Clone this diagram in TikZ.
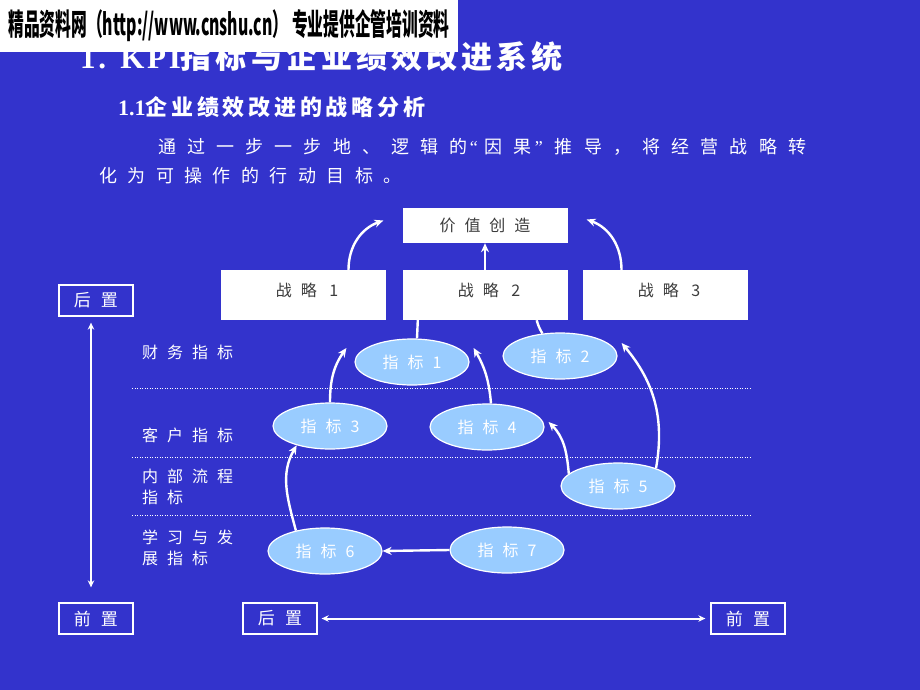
\documentclass[tikz,border=0pt]{standalone}
\usepackage{fontspec}
\usepackage{graphicx}
\setmainfont{Noto Sans CJK SC}
\newfontfamily\cjk{Noto Sans CJK SC}
\newfontfamily\serifb{Liberation Serif}[BoldFont={Liberation Serif Bold}]
\usetikzlibrary{shapes.geometric,arrows.meta,calc}
\definecolor{bg}{RGB}{51,51,204}
\definecolor{lb}{RGB}{153,204,255}
\definecolor{dg}{RGB}{60,60,60}
\newcommand{\fs}[1]{\fontsize{#1pt}{#1pt}\selectfont}
\newcommand{\ls}[1]{\addfontfeature{LetterSpace=#1}}
\newcommand{\oq}{\hspace{2pt}{\serifb\fs{18}“}\hspace{7pt}}
\newcommand{\cq}{\hspace{3pt}{\serifb\fs{18}”}\hspace{12pt}}
\begin{document}
\begin{tikzpicture}[x=1pt,y=1pt,
  sbox/.style={fill=white, minimum width=165pt, minimum height=50pt, inner sep=0pt},
  vbox/.style={fill=white, minimum width=165pt, minimum height=35pt, inner sep=0pt, text=dg, font=\fs{16}\ls{56}},
  btext/.style={text=dg, inner sep=0pt, font=\fs{16}\ls{56}},
  tag/.style={draw=white, line width=1.3pt, minimum width=74pt, minimum height=31pt, inner sep=0pt, text=white, font=\fs{17}\ls{59}},
  ell/.style={ellipse, fill=lb, draw=white, line width=1.2pt, minimum width=114pt, minimum height=46pt, inner sep=0pt, text=white, font=\fs{16}\ls{56}},
  lab/.style={text=white, anchor=west, align=left, inner sep=0pt, font=\fontsize{16pt}{20.5pt}\selectfont\ls{56}},
  conn/.style={white, line width=2.4pt, -{Stealth[length=9pt,width=8pt]}},
  plainline/.style={white, line width=2.4pt},
  dbl/.style={white, line width=2pt, {Stealth[length=7pt,width=6.5pt]}-{Stealth[length=7pt,width=6.5pt]}},
  dots/.style={white, line width=1pt, dash pattern=on 1pt off 1.5pt}
]
\fill[bg] (0,0) rectangle (920,-690);
\useasboundingbox (0,0) rectangle (920,-690);

% titles
\node[anchor=base west, inner sep=0pt, text=white] (title) at (80,-69)
  {\serifb\bfseries\fs{31}\ls{9}1. KPI\cjk\bfseries\fs{31}\ls{13}指标与企业绩效改进系统};
\node[fill=white, minimum width=458pt, minimum height=52pt, inner sep=0pt] (wm) at (229,-26)
  {\resizebox{441pt}{\height}{\bfseries\fs{30}精品资料网（http://www.cnshu.cn） 专业提供企管培训资料}};
\node[anchor=base west, inner sep=0pt, text=white] (sub) at (118,-115)
  {\serifb\bfseries\fs{22}1.1\cjk\bfseries\fs{22}\ls{17}企业绩效改进的战略分析};
\node[anchor=base west, inner sep=0pt, text=white, font=\fs{18}\ls{62}] (p1) at (158,-153)
  {通过一步一步地、逻辑的\oq 因果\cq 推导，将经营战略转};
\node[anchor=base west, inner sep=0pt, text=white, font=\fs{18}\ls{58}] (p2) at (99,-182)
  {化为可操作的行动目标。};

% strategy boxes
\node[vbox] (v) at (485,-225.5) {价值创造};
\node[sbox] (s1) at (303.5,-295) {};
\node[sbox] (s2) at (485,-295) {};
\node[sbox] (s3) at (665.5,-295) {};
\node[btext] (t1) at (307,-290) {战略 1};
\node[btext] (t2) at (489,-290) {战略 2};
\node[btext] (t3) at (669,-290) {战略 3};

% tags
\node[tag] (hz1) at (96,-300.5) {后置};
\node[tag] (qz1) at (96,-618.5) {前置};
\node[tag] (hz2) at (280,-618.5) {后置};
\node[tag] (qz2) at (748,-618.5) {前置};
\draw[dbl] ($(hz1.south)+(-5,-6)$) -- ($(qz1.north)+(-5,15)$);
\draw[dbl] ($(hz2.east)+(4,0)$) -- ($(qz2.west)+(-5,0)$);

% row labels
\node[lab] (l1) at (142,-352) {财务指标};
\node[lab] (l2) at (142,-435) {客户指标};
\node[lab] (l3) at (142,-487) {内部流程\\指标};
\node[lab] (l4) at (142,-548) {学习与发\\展指标};

\foreach \yy in {388,457,515} \draw[dots] (132,-\yy) -- (750,-\yy);

% ellipses
\node[ell] (e1) at (412,-362) {指标1};
\node[ell] (e2) at (560,-356) {指标2};
\node[ell] (e3) at (330,-426) {指标3};
\node[ell] (e4) at (487,-427) {指标4};
\node[ell] (e5) at (618,-486) {指标5};
\node[ell] (e6) at (325,-551) {指标6};
\node[ell] (e7) at (507,-550) {指标7};

% connectors
\draw[conn] (s2.north) -- (v.south);
\draw[conn] ($(s1.north)+(45,0)$) to[out=90,in=200] ($(v.west)+(-19,5)$);
\draw[conn] ($(s3.north)+(-44,0)$) to[out=90,in=-20] ($(v.east)+(19,6)$);
\draw[plainline] ($(e1.north)+(5,0)$) -- ($(s2.south west)+(15.5,0)$);
\draw[plainline] (e2.128) to[bend left=8] ($(s2.south east)+(-31,0)$);
\draw[conn] (e3.north) to[out=90,in=235] ($(e1.west)+(-8,14)$);
\draw[conn] ($(e4.north)+(4,0)$) to[out=95,in=-60] ($(e1.east)+(4,14)$);
\draw[conn] (e5.166) to[out=95,in=-45] ($(e4.east)+(4,5)$);
\draw[conn] (e5.25) to[out=80,in=-50] ($(e2.east)+(4,13)$);
\draw[conn] (e6.145) to[out=105,in=240] (e3.210);
\draw[conn] (e7.west) -- (e6.east);
\end{tikzpicture}
\end{document}
